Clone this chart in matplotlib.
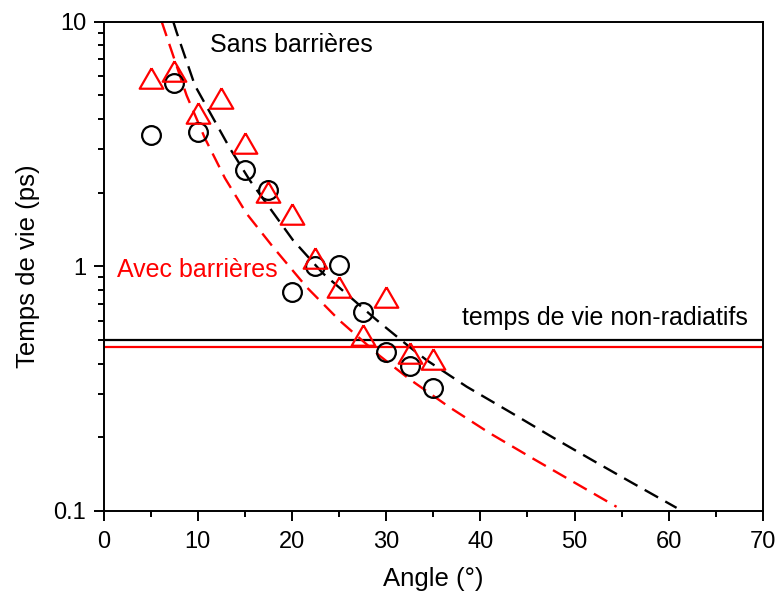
import matplotlib
matplotlib.use('Agg')
import matplotlib.pyplot as plt
from matplotlib.ticker import FixedLocator, NullFormatter, FuncFormatter, MultipleLocator

plt.rcParams['font.family'] = ['Liberation Sans', 'DejaVu Sans']

# mesures (points)
angle_sans = [5, 7.5, 10, 15, 17.5, 20, 22.5, 25, 27.5, 30, 32.5, 35]
tau_sans = [3.44, 5.6, 3.55, 2.48, 2.05, 0.787, 1.0, 1.01, 0.649, 0.448, 0.392, 0.318]

angle_avec = [5, 7.5, 10, 12.5, 15, 17.5, 20, 22.5, 25, 27.5, 30, 32.5, 35]
tau_avec = [5.87, 6.28, 4.23, 4.86, 3.2, 2.02, 1.64, 1.08, 0.826, 0.524, 0.751, 0.44, 0.417]

# courbes d'ajustement
fit_sans_x = [7.4, 7.76, 9.7, 13.42, 15.54, 20.1, 23.28, 29.01, 32.51, 34.31,
              38.55, 43.43, 47.67, 51.92, 56.16, 60.83]
fit_sans_y = [10.0, 9.04, 5.48, 3.03, 2.24, 1.28, 0.936, 0.602, 0.467, 0.413,
              0.322, 0.250, 0.200, 0.161, 0.130, 0.103]

fit_avec_x = [6.17, 8.82, 10.77, 12.89, 15.19, 17.98, 21.58, 25.08, 29.33, 32.51,
              36.75, 40.99, 45.55, 49.79, 54.46]
fit_avec_y = [10.0, 4.99, 3.33, 2.29, 1.64, 1.20, 0.82, 0.599, 0.430, 0.345,
              0.265, 0.208, 0.164, 0.132, 0.104]

tau_nr_sans = 0.5
tau_nr_avec = 0.467

red = '#ff0000'
tri = [(0, 0.866), (-1, -0.866), (1, -0.866), (0, 0.866)]

fig = plt.figure(figsize=(7.76, 6.01), dpi=100)
ax = fig.add_axes([0.1334, 0.1498, 0.8498, 0.8144])

ax.axhline(tau_nr_sans, color='black', lw=1.6)
ax.axhline(tau_nr_avec, color=red, lw=1.6)

ax.plot(fit_sans_x, fit_sans_y, color='black', lw=1.7, ls=(0, (6.5, 3.5)))
ax.plot(fit_avec_x, fit_avec_y, color=red, lw=1.7, ls=(0, (6.5, 3.5)))

ax.plot(angle_sans, tau_sans, ls='none', marker='o', ms=13.5, mfc='none',
        mec='black', mew=1.6)
ax.plot(angle_avec, tau_avec, ls='none', marker=tri, ms=17, mfc='none',
        mec=red, mew=1.6)

ax.text(11.3, 8.05, 'Sans barrières', fontsize=18, color='black', va='center')
ax.text(1.4, 0.964, 'Avec barrières', fontsize=18, color=red, va='center')
ax.text(38.0, 0.614, 'temps de vie non-radiatifs', fontsize=18, color='black',
        va='center')

ax.set_xlim(0, 70)
ax.set_yscale('log')
ax.set_ylim(0.1, 10)

ax.xaxis.set_major_locator(MultipleLocator(10))
ax.xaxis.set_minor_locator(MultipleLocator(5))
ax.yaxis.set_major_locator(FixedLocator([0.1, 1, 10]))
ax.yaxis.set_major_formatter(FuncFormatter(lambda v, p: '%g' % v))
ax.yaxis.set_minor_locator(FixedLocator([k * d for d in (0.1, 1) for k in range(2, 10)]))
ax.yaxis.set_minor_formatter(NullFormatter())

ax.tick_params(which='both', direction='out', top=False, right=False, width=1.4)
ax.tick_params(which='major', length=7.5, labelsize=17)
ax.tick_params(axis='x', which='major', pad=7)
ax.tick_params(axis='y', which='major', pad=5)
ax.tick_params(which='minor', length=4.5)
for s in ax.spines.values():
    s.set_linewidth(1.4)

ax.set_xlabel('Angle (°)', fontsize=18.5, labelpad=10)
ax.set_ylabel('Temps de vie (ps)', fontsize=18.5, labelpad=10)

fig.savefig('out.png', dpi=100)
